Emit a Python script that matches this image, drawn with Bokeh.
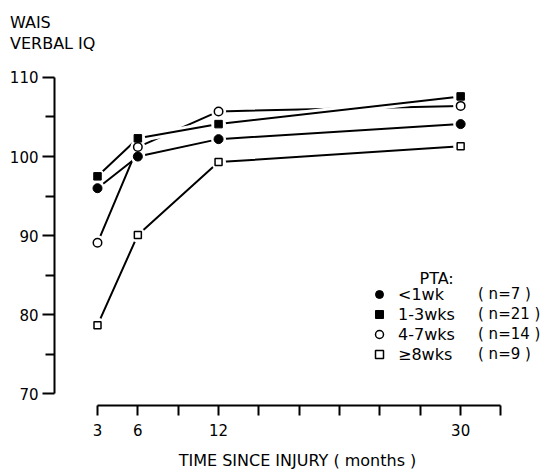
from bokeh.plotting import figure
from bokeh.layouts import column
from bokeh.models import Range1d, FixedTicker, Legend, LegendItem, Label, Div
from bokeh.embed import file_html
from bokeh.resources import INLINE

# ---- data ----
months = [3, 6, 12, 30]
pta_lt1 = [96.0, 100.0, 102.2, 104.1]   # < 1 wk
pta_1_3 = [97.5, 102.3, 104.1, 107.6]   # 1-3 wks
pta_4_7 = [89.1, 101.2, 105.7, 106.4]   # 4-7 wks
pta_ge8 = [78.7, 90.1, 99.3, 101.3]     # >= 8 wks

groups = ["<1wk", "1-3wks", "4-7wks", "≥8wks"]
group_n = ["( n=7 )", "( n=21 )", "( n=14 )", "( n=9 )"]

x_ticks = [3, 6, 9, 12, 15, 18, 21, 24, 27, 30, 33]
x_tick_labels = {3: "3", 6: "6", 12: "12", 30: "30"}
y_ticks = [70, 80, 90, 100, 110]
y_minor_ticks = [75, 85, 95, 105]

title_lines = ["WAIS", "VERBAL IQ"]
x_title = "TIME SINCE INJURY ( months )"
legend_title = "PTA:"

FONT = "DejaVu Sans"

# ---- title block (two lines, top left) ----
title_div = Div(text="<br>".join(title_lines), width=300, height=41,
                margin=(13, 0, 0, 10),
                styles={"font-family": FONT, "font-size": "16px",
                        "line-height": "20.5px", "color": "black",
                        "padding": "0px"})

p = figure(frame_width=486, frame_height=337,
           min_border_left=54, min_border_right=2,
           min_border_top=14, min_border_bottom=67,
           x_range=Range1d(-0.197, 35.937), y_range=Range1d(68.547, 111.124),
           output_backend="svg", toolbar_location=None)
p.outline_line_color = None
p.grid.visible = False
p.background_fill_color = "white"
p.border_fill_color = "white"

# x axis
xa = p.xaxis[0]
xa.ticker = FixedTicker(ticks=x_ticks, minor_ticks=[])
xa.major_label_overrides = {t: x_tick_labels.get(t, "") for t in x_ticks}
xa.bounds = (3, 33)
xa.axis_line_width = 2
xa.axis_line_color = "black"
xa.major_tick_line_width = 2
xa.major_tick_line_color = "black"
xa.major_tick_out = 10
xa.major_tick_in = 0
xa.minor_tick_out = 0
xa.minor_tick_in = 0
xa.major_label_text_font = FONT
xa.major_label_text_font_size = "15px"
xa.major_label_text_color = "black"
xa.major_label_standoff = 8
xa.axis_label = x_title
xa.axis_label_text_font = FONT
xa.axis_label_text_font_style = "normal"
xa.axis_label_text_font_size = "16px"
xa.axis_label_text_color = "black"
xa.axis_label_standoff = 12

# y axis
ya = p.yaxis[0]
ya.ticker = FixedTicker(ticks=y_ticks, minor_ticks=y_minor_ticks)
ya.bounds = (70, 110)
ya.axis_line_width = 2
ya.axis_line_color = "black"
ya.major_tick_line_width = 2
ya.major_tick_line_color = "black"
ya.minor_tick_line_width = 2
ya.minor_tick_line_color = "black"
ya.major_tick_out = 12
ya.major_tick_in = 0
ya.minor_tick_out = 9
ya.minor_tick_in = 0
ya.major_label_text_font = FONT
ya.major_label_text_font_size = "15px"
ya.major_label_text_color = "black"
ya.major_label_standoff = 4

# ---- lines ----
LW = 2
p.line(months, pta_ge8, line_color="black", line_width=LW)
p.line(months, pta_lt1, line_color="black", line_width=LW)
p.line(months, pta_4_7, line_color="black", line_width=LW)
# 1-3 wks line passes over the 4-7 wks line with a white gap
p.line(months, pta_1_3, line_color="white", line_width=8)
p.line(months, pta_1_3, line_color="black", line_width=LW)

# white gaps around the markers
series = [pta_lt1, pta_1_3, pta_4_7, pta_ge8]
halos = [p.scatter(months, ys, marker="circle", size=15, fill_color="white",
                   line_color=None) for ys in series]

# markers
r_lt1 = p.scatter(months, pta_lt1, marker="circle", size=9,
                  fill_color="black", line_color="black", line_width=1)
r_13 = p.scatter(months, pta_1_3, marker="square", size=7.5,
                 fill_color="black", line_color="black", line_width=1)
r_47 = p.scatter(months, pta_4_7, marker="circle", size=8.5,
                 fill_color="white", line_color="black", line_width=1.5)
r_ge8 = p.scatter(months, pta_ge8, marker="square", size=7,
                  fill_color="white", line_color="black", line_width=1.5)
markers = [r_lt1, r_13, r_47, r_ge8]

# ---- legend ----
leg_a = Legend(items=[LegendItem(label=g, renderers=[r]) for g, r in zip(groups, markers)],
               location=(315, 41), orientation="vertical",
               glyph_width=20, glyph_height=20, label_height=20, label_width=10,
               spacing=0, padding=0, margin=0, label_standoff=9,
               label_text_font=FONT, label_text_font_size="16px",
               label_text_color="black",
               border_line_color=None, background_fill_alpha=0)
p.add_layout(leg_a)

leg_b = Legend(items=[LegendItem(label=n, renderers=[h]) for n, h in zip(group_n, halos)],
               location=(423, 41), orientation="vertical",
               glyph_width=1, glyph_height=20, label_height=20, label_width=10,
               spacing=0, padding=0, margin=0, label_standoff=0,
               label_text_font=FONT, label_text_font_size="15px",
               label_text_color="black",
               border_line_color=None, background_fill_alpha=0)
p.add_layout(leg_b)

p.add_layout(Label(x=365, y=126.7, x_units="screen", y_units="screen",
                   text=legend_title, text_font=FONT, text_font_size="16px",
                   text_baseline="alphabetic", text_align="left", text_color="black"))

layout = column(title_div, p, spacing=0)

open("out.html", "w").write(file_html(layout, INLINE))
